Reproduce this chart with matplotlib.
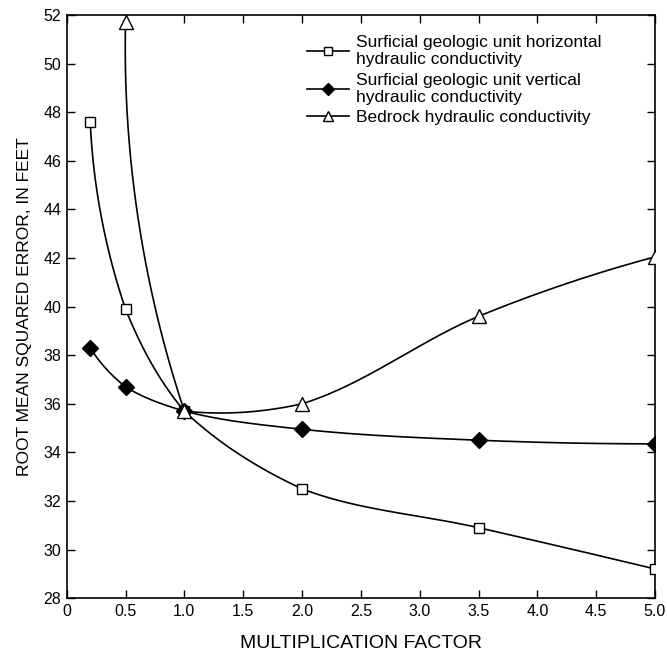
import matplotlib
matplotlib.use('Agg')
import matplotlib.pyplot as plt
from matplotlib import font_manager
import numpy as np

names = {f.name for f in font_manager.fontManager.ttflist}
family = 'Liberation Sans Narrow' if 'Liberation Sans Narrow' in names else 'Liberation Sans'
plt.rcParams['font.family'] = [family, 'DejaVu Sans']

# values
factor = [0.2, 0.5, 1.0, 2.0, 3.5, 5.0]
horizontal_rmse = [47.6, 39.9, 35.7, 32.5, 30.9, 29.2]
vertical_rmse = [38.3, 36.7, 35.7, 34.95, 34.5, 34.35]
bedrock_factor = [0.5, 1.0, 2.0, 3.5, 5.0]
bedrock_rmse = [51.7, 35.7, 36.0, 39.6, 42.05]

labels = ['Surficial geologic unit horizontal\nhydraulic conductivity',
          'Surficial geologic unit vertical\nhydraulic conductivity',
          'Bedrock hydraulic conductivity']


def unit(v):
    return v / np.linalg.norm(v)


def smooth_line(x, y, sx=5.0, sy=24.0, n=80):
    # bezier pieces through the points (drawn line only); sharp turns keep a
    # bit of a corner, gentle turns are smoothed
    p = np.column_stack([np.asarray(x, float) / sx, np.asarray(y, float) / sy])
    k = len(p)
    chords = [unit(p[i + 1] - p[i]) for i in range(k - 1)]

    def blend(own, other):
        turn = np.degrees(np.arccos(np.clip(np.dot(own, other), -1, 1)))
        w = min(0.5 + 0.35 * turn / 85.0, 0.9)
        return unit(w * own + (1 - w) * other)

    out = []
    for i in range(k - 1):
        c = chords[i]
        L = np.linalg.norm(p[i + 1] - p[i])
        ta = blend(c, chords[i - 1]) if i > 0 else None
        tb = blend(c, chords[i + 1]) if i < k - 2 else None
        if ta is None:
            ta = unit(2 * np.dot(c, tb) * c - tb) if tb is not None else c
        if tb is None:
            tb = unit(2 * np.dot(c, ta) * c - ta)
        b0, b3 = p[i], p[i + 1]
        b1 = b0 + ta * L / 3
        b2 = b3 - tb * L / 3
        t = np.linspace(0, 1, n)[:, None]
        seg = ((1 - t) ** 3 * b0 + 3 * (1 - t) ** 2 * t * b1
               + 3 * (1 - t) * t ** 2 * b2 + t ** 3 * b3)
        out.append(seg)
    c = np.vstack(out)
    return c[:, 0] * sx, c[:, 1] * sy


fig = plt.figure(figsize=(6.67, 6.58), dpi=100)
ax = fig.add_axes([0.1, 0.091, 0.882, 0.886])

series = [
    (factor, horizontal_rmse, dict(marker='s', mfc='white', ms=7), labels[0]),
    (factor, vertical_rmse, dict(marker='D', mfc='black', ms=8), labels[1]),
    (bedrock_factor, bedrock_rmse, dict(marker='^', mfc='white', ms=10), labels[2]),
]
handles = []
for xv, yv, mk, lab in series:
    xs, ys = smooth_line(xv, yv)
    ax.plot(xs, ys, color='black', lw=1.2, zorder=2)
    ax.plot(xv, yv, ls='none', color='black', mec='black', mew=1.0, zorder=3, **mk)
    h, = ax.plot([], [], color='black', lw=1.2, mec='black', mew=1.0,
                 **{**mk, 'ms': mk['ms'] * 0.75})
    handles.append(h)

ax.set_xlim(0, 5)
ax.set_ylim(28, 52)
ax.set_xticks(np.arange(0, 5.01, 0.5))
ax.set_xticklabels(['0', '0.5', '1.0', '1.5', '2.0', '2.5', '3.0', '3.5', '4.0', '4.5', '5.0'])
ax.set_yticks(np.arange(28, 53, 2))
ax.tick_params(direction='in', top=True, right=True, length=6, width=1,
               labelsize=11.5, pad=4)
for s in ax.spines.values():
    s.set_linewidth(1.2)

ax.set_xlabel('MULTIPLICATION FACTOR', fontsize=14, labelpad=12)
ax.set_ylabel('ROOT MEAN SQUARED ERROR, IN FEET', fontsize=12.5, labelpad=8)

ax.legend(handles, labels, loc='upper left', bbox_to_anchor=(0.397, 0.978),
          frameon=False, fontsize=12.5, handlelength=2.4, handletextpad=0.4,
          labelspacing=0.3, borderaxespad=0)

fig.savefig('out.png', dpi=100)
